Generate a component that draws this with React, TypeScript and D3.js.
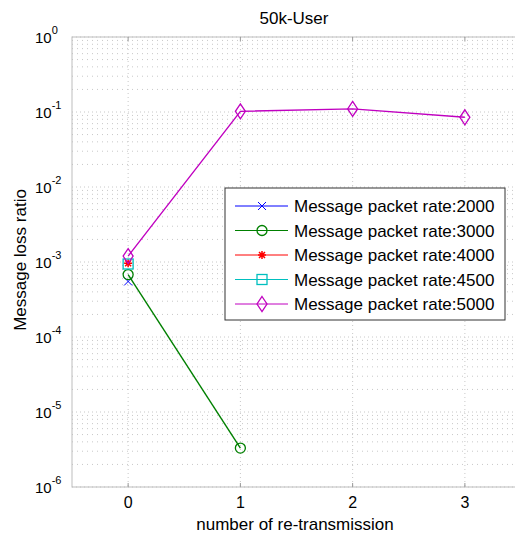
import React from "react";
import { scaleLinear, scaleLog, line, range } from "d3";

// chart values
const xTicks = [0, 1, 2, 3];
const yExponents = [0, -1, -2, -3, -4, -5, -6];
const rates = ["2000", "3000", "4000", "4500", "5000"];
const colors = ["#0000ff", "#008000", "#ff0000", "#00bfbf", "#c000c0"];
const markers = ["x", "o", "star", "square", "diamond"];
const rate2000 = [[0, 5.5e-4]];
const rate3000 = [[0, 6.8e-4], [1, 3.3e-6]];
const rate4000 = [[0, 9.6e-4]];
const rate4500 = [[0, 9.4e-4]];
const rate5000 = [[0, 1.2e-3], [1, 0.102], [2, 0.11], [3, 0.085]];
const seriesData = [rate2000, rate3000, rate4000, rate4500, rate5000];

const W = 515;
const H = 534;
const left = 72;
const right = 521;
const top = 37;
const bottom = 487;
const font = "'Liberation Sans', Arial, sans-serif";

function Marker({ type, x, y, color }) {
  const s = 5;
  if (type === "x")
    return (
      <path d={`M${x - 4},${y - 4}L${x + 4},${y + 4}M${x - 4},${y + 4}L${x + 4},${y - 4}`} stroke={color} fill="none" />
    );
  if (type === "o") return <circle cx={x} cy={y} r={s} stroke={color} fill="none" strokeWidth={1.3} />;
  if (type === "star")
    return (
      <path
        d={`M${x - 4},${y}L${x + 4},${y}M${x},${y - 4}L${x},${y + 4}M${x - 3},${y - 3}L${x + 3},${y + 3}M${x - 3},${y + 3}L${x + 3},${y - 3}`}
        stroke={color}
        strokeWidth={1.5}
        fill="none"
      />
    );
  if (type === "square")
    return <rect x={x - 5} y={y - 5} width={10} height={10} stroke={color} fill="none" strokeWidth={1.3} />;
  return (
    <path d={`M${x},${y - 7.5}L${x + 5},${y}L${x},${y + 7.5}L${x - 5},${y}Z`} stroke={color} fill="none" strokeWidth={1.3} />
  );
}

export default function App() {
  const xScale = scaleLinear().domain([-0.5, 3.5]).range([left, right]);
  const yScale = scaleLog().domain([1e-6, 1]).range([bottom, top]);
  const path = line()
    .x((d) => xScale(d[0]))
    .y((d) => yScale(d[1]));

  // minor grid values 2..9 x 10^k
  const minor = [];
  for (let e = -6; e < 0; e++) {
    range(2, 10).forEach((m) => minor.push(m * Math.pow(10, e)));
  }

  const legX = 225;
  const legY = 188;
  const rowH = 24.5;

  return (
    <svg width={W} height={H} style={{ position: "absolute", left: 0, top: 0, background: "#fff" }}>
      <rect x={left} y={top} width={right - left} height={bottom - top} fill="#fff" />
      {/* grid */}
      {minor.map((v) => (
        <line key={"m" + v} x1={left} x2={right} y1={yScale(v)} y2={yScale(v)} stroke="#c8c8c8" strokeDasharray="1,4" />
      ))}
      {yExponents.map((e) => (
        <line key={"g" + e} x1={left} x2={right} y1={yScale(Math.pow(10, e))} y2={yScale(Math.pow(10, e))} stroke="#c8c8c8" strokeDasharray="1,3" />
      ))}
      {xTicks.map((t) => (
        <line key={"v" + t} x1={xScale(t)} x2={xScale(t)} y1={top} y2={bottom} stroke="#c8c8c8" strokeDasharray="1,3" />
      ))}
      {/* box */}
      <rect x={left} y={top} width={right - left} height={bottom - top} fill="none" stroke="#bdbdbd" />
      {xTicks.map((t) => (
        <g key={"t" + t}>
          <line x1={xScale(t)} x2={xScale(t)} y1={bottom} y2={bottom - 4} stroke="#999" />
          <line x1={xScale(t)} x2={xScale(t)} y1={top} y2={top + 4} stroke="#999" />
          <text x={xScale(t)} y={bottom + 21} textAnchor="middle" fontFamily={font} fontSize={16}>
            {t}
          </text>
        </g>
      ))}
      {yExponents.map((e) => (
        <text key={"y" + e} x={35} y={yScale(Math.pow(10, e)) + 6} fontFamily={font} fontSize={15}>
          10
          <tspan dy={-9} fontSize={11}>
            {e}
          </tspan>
        </text>
      ))}
      {/* series */}
      {seriesData.map((s, i) => (
        <g key={rates[i]}>
          {s.length > 1 && <path d={path(s)} fill="none" stroke={colors[i]} strokeWidth={1.4} />}
          {s.map((d, j) => (
            <Marker key={j} type={markers[i]} x={xScale(d[0])} y={yScale(d[1])} color={colors[i]} />
          ))}
        </g>
      ))}
      {/* legend */}
      <rect x={legX} y={legY} width={280} height={132} fill="#fff" stroke="#333" />
      {rates.map((r, i) => {
        const y = legY + 18 + i * rowH;
        return (
          <g key={"l" + r}>
            <line x1={legX + 10} x2={legX + 63} y1={y} y2={y} stroke={colors[i]} />
            <Marker type={markers[i]} x={legX + 37} y={y} color={colors[i]} />
            <text x={legX + 69} y={y + 6} fontFamily={font} fontSize={17}>
              Message packet rate:{r}
            </text>
          </g>
        );
      })}
      <text x={294} y={24} textAnchor="middle" fontFamily={font} fontSize={17}>
        50k-User
      </text>
      <text x={295} y={530} textAnchor="middle" fontFamily={font} fontSize={17}>
        number of re-transmission
      </text>
      <text
        transform={`translate(26, 260) rotate(-90)`}
        textAnchor="middle"
        fontFamily={font}
        fontSize={17}
      >
        Message loss ratio
      </text>
    </svg>
  );
}
